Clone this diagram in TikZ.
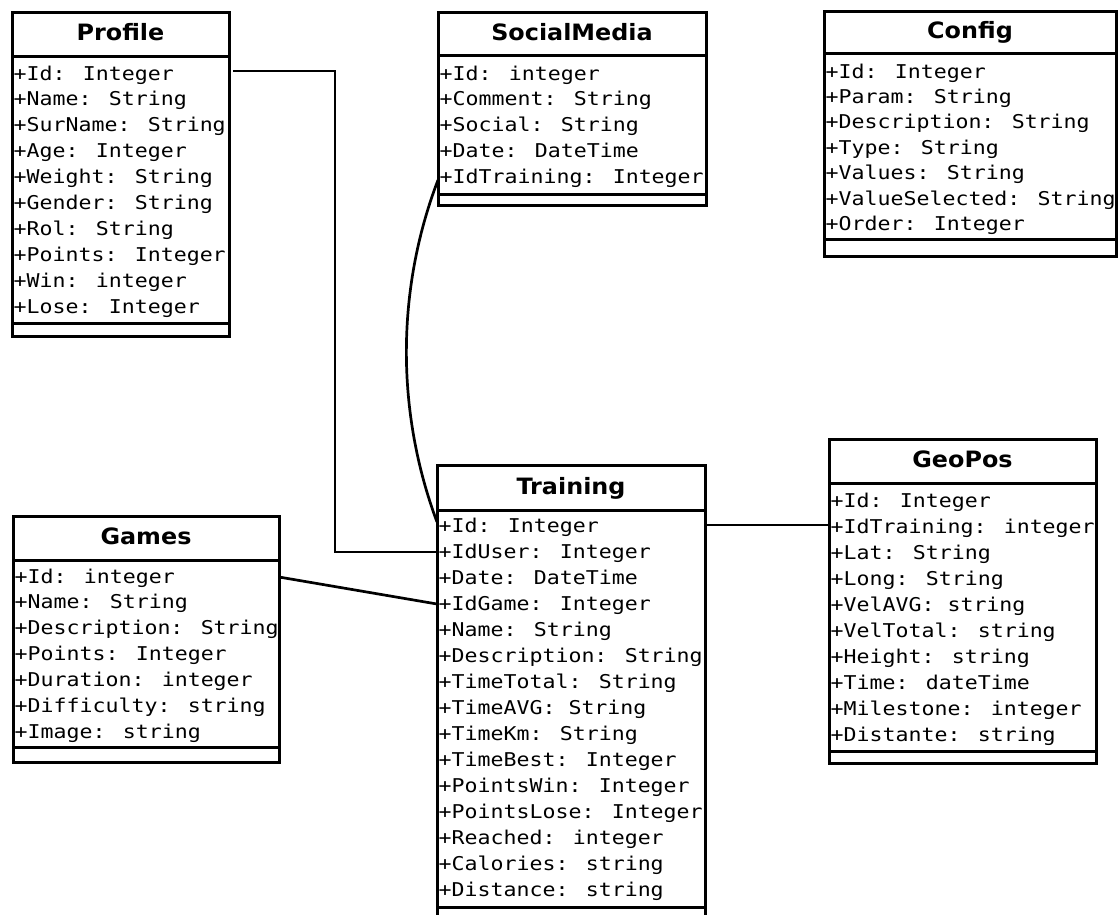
\documentclass[tikz,border=0pt]{standalone}
\usepackage{fontspec}
\newfontfamily\attrfont[FakeStretch=1.135]{DejaVu Sans Mono}
\newfontfamily\titlefont[FakeStretch=1.06]{DejaVu Sans}
\tikzset{
  box/.style={draw, line width=3pt, rectangle, inner sep=0pt, outer sep=0pt, fill=white},
  sepline/.style={line width=3pt},
  ctitle/.style={font=\titlefont\bfseries\fontsize{22.5}{27}\selectfont, inner sep=0pt, anchor=base},
  attr/.style={font=\attrfont\fontsize{19}{22}\selectfont, inner sep=0pt, anchor=base west},
  conn/.style={line width=2.7pt},
}
% #1 name, #2 L, #3 T, #4 R, #5 B, #6 title separator, #7 bottom separator, #8 title
\newcommand\classbox[8]{%
  \node[box, minimum width={(#4)-(#2)}, minimum height={(#5)-(#3)}] (#1) at ({((#2)+(#4))/2},{((#3)+(#5))/2}) {};
  \draw[sepline] (#1.west |- 0,#6) -- (#1.east |- 0,#6);
  \draw[sepline] (#1.west |- 0,#7) -- (#1.east |- 0,#7);
  \node[ctitle] (#1-title) at ({((#2)+(#4))/2},{((#3)+(#6))/2+6.5}) {#8};
}
% #1 name, #2 x, #3 first baseline, #4 pitch, #5 list
\newcommand\attrlist[5]{%
  \foreach \t [count=\i from 0] in {#5}
    \node[attr] (#1-a\i) at (#2,{(#3)+\i*(#4)}) {\t};
}
\begin{document}
\begin{tikzpicture}[x=1pt,y=-1pt]
\useasboundingbox (0,0) rectangle (1118,914);
\clip (0,0) rectangle (1118,914);

\classbox{profile}{12}{12}{229}{336}{56}{323}{Profile}
\attrlist{profile}{13.5}{80}{25.9}{+Id: Integer,+Name: String,+SurName: String,+Age: Integer,+Weight: String,+Gender: String,+Rol: String,+Points: Integer,+Win: integer,+Lose: Integer}

\classbox{social}{438}{12}{706}{205}{55}{194}{SocialMedia}
\attrlist{social}{439.5}{80}{25.9}{+Id: integer,+Comment: String,+Social: String,+Date: DateTime,+IdTraining: Integer}

\classbox{config}{824}{11}{1116}{256}{53}{239}{Config}
\attrlist{config}{825.5}{78}{25.4}{+Id: Integer,+Param: String,+Description: String,+Type: String,+Values: String,+ValueSelected: String,+Order: Integer}

\classbox{games}{13}{516}{279}{762}{560}{747}{Games}
\attrlist{games}{14.5}{583}{25.85}{+Id: integer,+Name: String,+Description: String,+Points: Integer,+Duration: integer,+Difficulty: string,+Image: string}

\classbox{training}{437}{465}{705}{930}{510}{907}{Training}
\attrlist{training}{438.5}{532}{26}{+Id: Integer,+IdUser: Integer,+Date: DateTime,+IdGame: Integer,+Name: String,+Description: String,+TimeTotal: String,+TimeAVG: String,+TimeKm: String,+TimeBest: Integer,+PointsWin: Integer,+PointsLose: Integer,+Reached: integer,+Calories: string,+Distance: string}

\classbox{geopos}{829}{439}{1096}{763}{483}{751}{GeoPos}
\attrlist{geopos}{830.5}{507}{26}{+Id: Integer,+IdTraining: integer,+Lat: String,+Long: String,+VelAVG: string,+VelTotal: string,+Height: string,+Time: dateTime,+Milestone: integer,+Distante: string}

% connectors
\coordinate (bend) at (335,71);
\draw[conn] ([xshift=4pt]profile.east |- bend) -- (bend) |- (training.west |- 0,552);
\draw[conn] (social.west |- 0,180) .. controls (396,290) and (396,412) .. (training.west |- 0,522);
\draw[conn] (games.east |- 0,577) -- (training.west |- 0,604);
\draw[conn] (training.east |- 0,525) -- (geopos.west |- 0,525);
\end{tikzpicture}
\end{document}
